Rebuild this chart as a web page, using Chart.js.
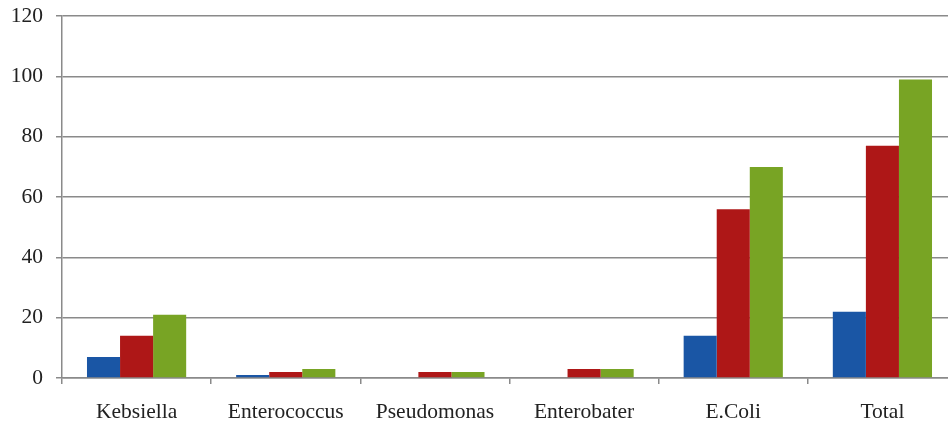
<!DOCTYPE html>
<html>
<head>
<meta charset="utf-8">
<script src="https://cdn.jsdelivr.net/npm/chart.js@4/dist/chart.umd.min.js"></script>
<style>
  body { margin: 0; background: #fff; }
  #wrap { width: 948px; height: 423px; overflow: hidden; }
</style>
</head>
<body>
<!-- the original plot runs a little past the right edge, so the canvas is wider and clipped -->
<div id="wrap"><canvas id="chart" width="957" height="423"></canvas></div>
<script>
// Data
const categories = ['Kebsiella', 'Enterococcus', 'Pseudomonas', 'Enterobater', 'E.Coli', 'Total'];
const seriesBlue = [7, 1, 0, 0, 14, 22];
const seriesRed = [14, 2, 2, 3, 56, 77];
const seriesGreen = [21, 3, 2, 3, 70, 99];
const yTicks = [0, 20, 40, 60, 80, 100, 120];

const fontFamily = '"Liberation Serif", "DejaVu Serif", serif';
const gridColor = '#8a8a8a';

const ctx = document.getElementById('chart').getContext('2d');
new Chart(ctx, {
    type: 'bar',
    data: {
        labels: categories,
        datasets: [
            { label: 'Series 1', data: seriesBlue, backgroundColor: '#1a56a5' },
            { label: 'Series 2', data: seriesRed, backgroundColor: '#ae1717' },
            { label: 'Series 3', data: seriesGreen, backgroundColor: '#78a424' }
        ]
    },
    options: {
        responsive: false,
        animation: false,
        datasets: {
            bar: { categoryPercentage: 0.665, barPercentage: 1.0 }
        },
        layout: { padding: { top: 0, right: 0, left: 12, bottom: 0 } },
        plugins: {
            legend: { display: false },
            tooltip: { enabled: false }
        },
        scales: {
            x: {
                afterFit: (axis) => { axis.height = 45; },
                grid: {
                    offset: true,
                    drawOnChartArea: false,
                    drawTicks: true,
                    tickLength: 6,
                    color: gridColor,
                    lineWidth: 1.5
                },
                border: { color: gridColor, width: 1.5 },
                ticks: {
                    color: '#222',
                    padding: 15,
                    font: { family: fontFamily, size: 21.5 }
                }
            },
            y: {
                min: 0,
                max: 120,
                afterFit: (axis) => { axis.width = 50; },
                afterBuildTicks: (axis) => {
                    axis.ticks = yTicks.map((v) => ({ value: v }));
                },
                grid: {
                    color: gridColor,
                    lineWidth: 1.5,
                    tickLength: 6
                },
                border: { color: gridColor, width: 1.5 },
                ticks: {
                    color: '#222',
                    padding: 13,
                    // small line height pulls the chart area up to match the original
                    font: { family: fontFamily, size: 21.5, lineHeight: 0.3 }
                }
            }
        }
    }
});
</script>
</body>
</html>
